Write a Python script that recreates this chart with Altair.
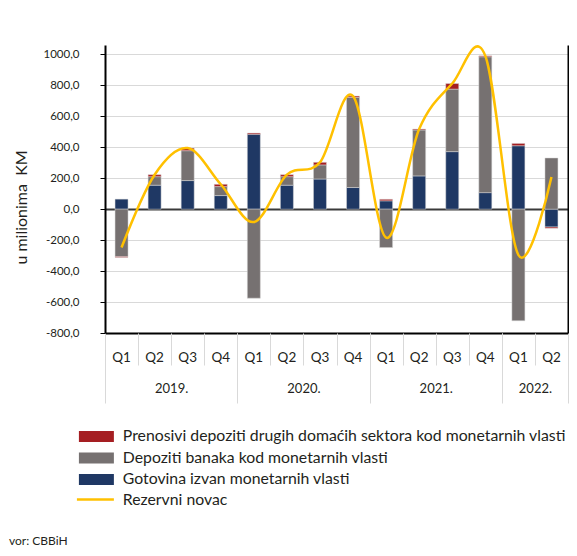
import altair as alt
import pandas as pd

# ---------------- data ----------------
godine = ["2019.", "2020.", "2021.", "2022."]
kvartala_po_godini = [4, 4, 4, 2]
kvartali = ["Q1", "Q2", "Q3", "Q4"]

gotovina = [65, 155, 185, 88, 484, 155, 195, 140, 54, 215, 372, 107, 410, -115]
depoziti_banaka = [-306, 55, 193, 58, -575, 55, 91, 582, -248, 297, 404, 878, -721, 331]
prenosivi = [-6, 13, 17, 15, 8, 13, 17, 9, 10, 6, 36, 6, 15, -8]

serije = [
    "Prenosivi depoziti drugih domaćih sektora kod monetarnih vlasti",
    "Depoziti banaka kod monetarnih vlasti",
    "Gotovina izvan monetarnih vlasti",
]
boje = ["#a51e22", "#767171", "#1f3864"]
linija_naziv = "Rezervni novac"
linija_boja = "#ffc000"

y_vrijednosti = [-800, -600, -400, -200, 0, 200, 400, 600, 800, 1000]
y_domena = [-800, 1061]
izvor = "vor: CBBiH"
y_naslov = "u milionima\u00a0 KM"

FONT = "Lato"
TXT = "#231f20"

# ---------------- tables ----------------
kategorije = []
for g, n in zip(godine, kvartala_po_godini):
    for q in kvartali[:n]:
        kategorije.append(f"{q} {g}")
n_kat = len(kategorije)

redovi = []
for i, k in enumerate(kategorije):
    redovi.append({"kat": k, "serija": serije[2], "vrijednost": gotovina[i], "red": 0})
    redovi.append({"kat": k, "serija": serije[1], "vrijednost": depoziti_banaka[i], "red": 1})
    redovi.append({"kat": k, "serija": serije[0], "vrijednost": prenosivi[i], "red": 2})
df_bars = pd.DataFrame(redovi)

ukupno = [a + b + c for a, b, c in zip(gotovina, depoziti_banaka, prenosivi)]
df_line = pd.DataFrame({"kat": kategorije, "ukupno": ukupno, "serija": linija_naziv})

granice_kvartala = list(range(n_kat + 1))
granice_godina = [0]
for n in kvartala_po_godini:
    granice_godina.append(granice_godina[-1] + n)
sredine_godina = [granice_godina[i] + kvartala_po_godini[i] / 2 for i in range(len(godine))]
year_expr = " : ".join(
    f"datum.value == {s} ? '{g}'" for s, g in zip(sredine_godina, godine)
) + " : ''"

df_dek = pd.DataFrame({"p": [0, n_kat]})

band_scale = alt.Scale(paddingInner=0, paddingOuter=0)
y_scale = alt.Scale(domain=y_domena, nice=False, zero=False)

# ---------------- layers ----------------
bars = alt.Chart(df_bars).mark_bar(size=13, stroke="#d9d9d9", strokeWidth=0.5).encode(
    x=alt.X(
        "kat:N", sort=kategorije, scale=band_scale,
        axis=alt.Axis(
            title=None, labelExpr="split(datum.value, ' ')[0]", ticks=False,
            domainColor="#000000", domainWidth=2, labelFontSize=13.5, labelPadding=17,
            labelColor=TXT, grid=False, labelAngle=0,
        ),
    ),
    y=alt.Y(
        "vrijednost:Q", stack="zero", scale=y_scale,
        axis=alt.Axis(
            values=y_vrijednosti, labelExpr="datum.value + ',0'", tickSize=5,
            tickColor="#000000", domainColor="#000000", domainWidth=2,
            gridColor=alt.condition("datum.value === 0", alt.value("#3a3a3a"), alt.value("#d9d9d9")),
            gridWidth=alt.condition("datum.value === 0", alt.value(2), alt.value(1)),
            title=y_naslov, titleFontSize=16, titleFontWeight="normal", titleColor=TXT,
            titlePadding=14, titleY=162, labelPadding=21, labelFontSize=11.5, labelColor=TXT,
        ),
    ),
    color=alt.Color(
        "serija:N", scale=alt.Scale(domain=serije, range=boje),
        legend=alt.Legend(
            orient="none", legendX=-16.5, legendY=383.5, title=None,
            symbolType="M-3.18,-1H3.18V1H-3.18Z", symbolSize=121, symbolStrokeWidth=0,
            labelFontSize=15.8, labelOffset=18.5, rowPadding=4.5, padding=0,
            labelLimit=600, labelColor=TXT,
        ),
    ),
    order=alt.Order("red:Q", sort="ascending"),
)

line = alt.Chart(df_line).mark_line(interpolate="cardinal", strokeWidth=2.5).encode(
    x=alt.X("kat:N", sort=kategorije, scale=band_scale, axis=None),
    y=alt.Y(
        "ukupno:Q", scale=y_scale,
        axis=alt.Axis(orient="right", labels=False, ticks=False, grid=False,
                      domainColor="#000000", domainWidth=2, title=None),
    ),
    stroke=alt.Stroke(
        "serija:N", scale=alt.Scale(domain=[linija_naziv], range=[linija_boja]),
        legend=alt.Legend(
            orient="none", legendX=-17.5, legendY=446.7, title=None,
            symbolType="M-3.36,0H3.36", symbolSize=121, symbolStrokeWidth=2.5,
            labelFontSize=15.8, labelOffset=19.5, padding=0, labelLimit=600, labelColor=TXT,
        ),
    ),
)


def dek(axis):
    return alt.Chart(df_dek).mark_point(opacity=0).encode(
        x=alt.X("p:Q", scale=alt.Scale(domain=[0, n_kat], nice=False, zero=False), axis=axis)
    )


sep_q = dek(alt.Axis(values=granice_kvartala, labels=False, tickSize=32, tickColor="#d9d9d9",
                     tickWidth=1, domain=False, grid=False, title=None, orient="bottom"))
sep_g = dek(alt.Axis(values=granice_godina, labels=False, tickSize=70, tickColor="#d9d9d9",
                     tickWidth=1, domain=False, grid=False, title=None, orient="bottom"))
lab_g = dek(alt.Axis(values=sredine_godina, labelExpr=year_expr, ticks=False, tickSize=0,
                     labelPadding=49, labelFontSize=13, labelColor=TXT, domain=False,
                     grid=False, title=None, orient="bottom"))

chart = (
    alt.layer(bars, line, sep_q, sep_g, lab_g)
    .resolve_scale(x="independent")
    .resolve_axis(x="independent", y="independent")
    .resolve_legend(color="independent", stroke="independent")
    .properties(
        width=463, height=288,
        autosize=alt.AutoSizeParams(type="none"),
        padding={"left": 97, "top": 37, "right": 1, "bottom": 215},
        title=alt.TitleParams(izvor, orient="bottom", anchor="start", frame="group",
                              dx=-96, offset=28, fontSize=12, fontWeight="normal",
                              color=TXT, font=FONT),
    )
    .configure(font=FONT, background="white")
    .configure_view(stroke=None)
)

chart.save("out.html", embed_options={"renderer": "svg", "actions": False})
